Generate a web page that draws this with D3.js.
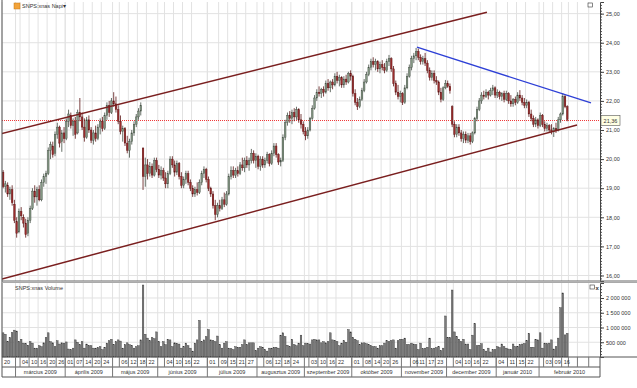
<!DOCTYPE html>
<html>
<head>
<meta charset="utf-8">
<script src="https://cdn.jsdelivr.net/npm/d3@7"></script>
<style>
body { margin: 0; background: #fff; }
text { font-family: "Liberation Sans", Arial, sans-serif; fill: #333; }
</style>
</head>
<body>
<div id="my_chart"></div>
<script>
// daily candles [open, high, low, close], 20 Feb 2009 .. 18 Feb 2010
var ohlc = [
  [19.55,19.62,19.00,19.05],[19.05,19.25,18.85,19.15],[19.10,19.20,18.70,18.80],[18.80,19.05,18.60,18.95],
  [18.95,19.10,18.40,18.50],[18.45,18.60,17.80,17.90],[17.85,18.00,17.30,17.45],[17.50,18.30,17.45,18.20],
  [18.20,18.35,17.90,18.05],[18.00,18.10,17.65,17.80],[17.80,17.95,17.30,17.40],[17.45,18.00,17.35,17.90],
  [17.90,18.40,17.80,18.30],[18.30,19.00,18.25,18.90],[18.90,19.10,18.50,18.70],[18.70,19.05,18.40,18.95],
  [18.95,19.10,18.55,18.60],[18.60,19.30,18.55,19.20],[19.20,19.50,19.05,19.40],[19.40,19.60,19.15,19.50],
  [19.50,20.40,19.45,20.30],[20.30,20.60,20.00,20.50],[20.45,20.60,20.05,20.15],[20.20,20.95,20.10,20.85],
  [20.85,21.25,20.70,21.10],[21.10,21.15,20.40,20.55],[20.60,21.00,20.25,20.90],[20.90,21.10,20.55,20.70],
  [20.70,21.40,20.65,21.30],[21.30,21.70,21.10,21.55],[21.50,21.60,21.05,21.15],[21.15,21.40,20.80,21.30],
  [21.30,21.45,20.70,20.85],[20.90,21.70,20.85,21.60],[21.60,22.10,21.30,21.45],[21.45,21.60,21.00,21.10],
  [21.10,21.40,20.60,20.75],[20.75,21.45,20.70,21.35],[21.35,21.50,20.90,21.00],[21.00,21.10,20.55,20.65],
  [20.65,21.00,20.50,20.90],[20.90,21.15,20.60,20.70],[20.70,21.20,20.65,21.10],[21.10,21.40,20.85,21.30],
  [21.30,21.45,20.95,21.05],[21.05,21.60,21.00,21.50],[21.50,21.95,21.35,21.85],[21.85,22.00,21.45,21.60],
  [21.60,22.10,21.55,22.00],[22.00,22.30,21.80,21.90],[21.90,22.15,21.60,21.70],[21.70,21.85,21.20,21.30],
  [21.30,21.50,20.85,20.95],[20.95,21.15,20.60,21.05],[21.05,21.10,20.45,20.55],[20.55,20.80,20.20,20.30],
  [20.30,20.70,20.05,20.60],[20.60,21.00,20.50,20.90],[20.90,21.30,20.80,21.20],[21.20,21.55,21.10,21.45],
  [21.45,21.75,21.35,21.65],[21.65,21.95,21.50,21.85],[20.38,20.40,18.94,19.40],[19.40,20.05,19.05,19.80],
  [19.80,20.00,19.30,19.50],[19.50,19.90,19.40,19.75],[19.75,19.85,19.35,19.45],[19.45,20.05,19.40,19.95],
  [19.95,20.05,19.55,19.65],[19.65,19.80,19.35,19.45],[19.45,19.75,19.30,19.60],[19.60,19.70,19.25,19.35],
  [19.35,19.55,19.00,19.15],[19.15,19.60,19.00,19.50],[19.50,20.10,19.45,20.00],[20.00,20.10,19.70,19.80],
  [19.80,19.95,19.40,19.55],[19.55,19.95,19.45,19.85],[19.85,19.90,19.30,19.40],[19.40,19.55,19.00,19.10],
  [19.10,19.40,19.00,19.30],[19.30,19.60,19.15,19.50],[19.50,19.60,19.10,19.20],[19.20,19.30,18.90,19.00],
  [19.00,19.10,18.70,18.80],[18.80,19.05,18.70,18.95],[18.95,19.20,18.75,18.85],[18.85,19.30,18.80,19.20],
  [19.20,19.60,19.10,19.50],[19.50,19.75,19.35,19.65],[19.65,19.70,19.20,19.30],[19.30,19.40,18.90,19.00],
  [19.00,19.05,18.70,18.80],[18.80,18.90,18.30,18.40],[18.40,18.60,17.90,18.10],[18.10,18.50,18.00,18.40],
  [18.40,18.60,18.20,18.30],[18.30,18.70,18.25,18.60],[18.60,18.85,18.35,18.45],[18.45,18.90,18.40,18.80],
  [18.80,19.50,18.75,19.40],[19.40,19.75,19.30,19.60],[19.60,19.75,19.35,19.45],[19.45,19.70,19.35,19.60],
  [19.60,19.75,19.40,19.50],[19.50,19.90,19.45,19.80],[19.80,20.05,19.60,19.70],[19.70,20.05,19.55,19.95],
  [19.95,20.10,19.70,19.80],[19.80,20.05,19.60,19.95],[19.95,20.35,19.85,20.20],[20.20,20.30,19.85,19.95],
  [19.95,20.20,19.70,20.10],[20.10,20.15,19.65,19.75],[19.75,20.10,19.60,20.00],[20.00,20.10,19.70,19.80],
  [19.80,20.05,19.70,19.95],[19.95,20.25,19.85,20.15],[20.15,20.20,19.75,19.85],[19.85,20.30,19.80,20.20],
  [20.20,20.55,20.10,20.45],[20.45,20.55,20.05,20.15],[20.15,20.20,19.80,19.90],[19.90,20.05,19.75,19.95],
  [19.95,20.85,19.90,20.75],[20.75,21.35,20.65,21.25],[21.25,21.60,21.15,21.50],[21.50,21.65,21.25,21.40],
  [21.40,21.70,21.20,21.60],[21.60,21.75,21.30,21.45],[21.45,21.80,21.35,21.70],[21.70,21.75,21.25,21.35],
  [21.35,21.55,21.05,21.20],[21.20,21.30,20.85,20.95],[20.95,21.10,20.65,20.80],[20.80,21.10,20.70,21.00],
  [21.00,21.45,20.95,21.40],[21.40,21.85,21.35,21.75],[21.75,22.20,21.70,22.10],[22.10,22.40,22.00,22.30],
  [22.30,22.50,22.15,22.25],[22.25,22.45,22.10,22.40],[22.40,22.50,22.15,22.30],[22.30,22.70,22.25,22.60],
  [22.60,22.75,22.35,22.45],[22.45,22.70,22.30,22.65],[22.65,22.75,22.40,22.55],[22.55,22.95,22.50,22.85],
  [22.85,23.00,22.60,22.70],[22.70,22.90,22.50,22.80],[22.80,22.85,22.45,22.55],[22.55,22.85,22.45,22.75],
  [22.75,22.90,22.55,22.65],[22.65,23.00,22.60,22.95],[22.95,23.05,22.70,22.85],[22.85,22.90,22.15,22.25],
  [22.25,22.40,21.85,21.95],[21.95,22.10,21.69,21.80],[21.80,22.15,21.75,22.05],[22.05,22.45,22.00,22.35],
  [22.35,22.75,22.30,22.65],[22.65,23.00,22.60,22.90],[22.90,23.25,22.85,23.15],[23.15,23.45,23.05,23.35],
  [23.35,23.50,23.15,23.25],[23.25,23.45,23.05,23.35],[23.35,23.40,23.00,23.10],[23.10,23.35,22.95,23.25],
  [23.25,23.40,23.05,23.15],[23.15,23.30,22.95,23.05],[23.05,23.45,23.00,23.35],[23.35,23.58,23.20,23.45],
  [23.45,23.50,23.00,23.10],[23.10,23.20,22.50,22.60],[22.60,22.70,22.20,22.30],[22.30,22.55,22.05,22.15],
  [22.15,22.35,21.95,22.25],[22.25,22.30,21.86,21.95],[21.95,22.55,21.90,22.45],[22.45,22.95,22.40,22.85],
  [22.85,23.25,22.80,23.15],[23.15,23.55,23.05,23.45],[23.45,23.65,23.30,23.55],[23.55,23.82,23.40,23.70],
  [23.70,23.80,23.40,23.50],[23.50,23.60,23.25,23.35],[23.35,23.55,23.25,23.45],[23.45,23.65,23.20,23.30],
  [23.30,23.40,22.95,23.05],[23.05,23.15,22.70,22.80],[22.80,23.05,22.70,22.95],[22.95,23.05,22.60,22.70],
  [22.70,22.85,22.55,22.65],[22.65,22.70,22.20,22.30],[22.30,22.45,21.95,22.05],[22.05,22.50,22.00,22.45],
  [22.45,22.72,22.40,22.60],[22.60,22.70,22.45,22.50],[22.50,22.60,22.25,22.35],[21.80,21.85,21.10,21.20],
  [21.20,21.30,20.75,20.85],[20.85,21.20,20.75,21.10],[21.10,21.20,20.80,20.90],[20.90,21.00,20.60,20.70],
  [20.70,20.95,20.55,20.85],[20.85,20.95,20.55,20.65],[20.65,20.90,20.55,20.80],[20.80,20.90,20.50,20.60],
  [20.60,20.95,20.55,20.90],[20.90,21.45,20.85,21.40],[21.40,21.80,21.30,21.70],[21.70,22.10,21.65,22.00],
  [22.00,22.30,21.90,22.20],[22.20,22.35,22.05,22.15],[22.15,22.40,22.10,22.30],[22.30,22.35,22.05,22.20],
  [22.20,22.45,22.15,22.35],[22.35,22.55,22.20,22.45],[22.45,22.50,22.10,22.20],[22.20,22.40,22.10,22.30],
  [22.30,22.35,22.05,22.15],[22.15,22.30,22.00,22.25],[22.25,22.35,21.95,22.05],[22.05,22.35,22.00,22.25],
  [22.25,22.30,21.90,22.00],[22.00,22.20,21.80,21.90],[21.90,22.10,21.80,22.05],[22.05,22.15,21.85,21.95],
  [21.95,22.30,21.90,22.20],[22.20,22.37,22.00,22.10],[22.10,22.20,21.85,21.95],[21.95,22.10,21.75,21.85],
  [21.85,22.05,21.75,21.95],[21.95,22.00,21.45,21.55],[21.55,21.70,21.30,21.40],[21.40,21.50,21.10,21.20],
  [21.20,21.45,21.10,21.35],[21.35,21.40,21.05,21.15],[21.15,21.60,21.10,21.50],[21.50,21.55,21.10,21.20],
  [21.20,21.30,20.95,21.05],[21.05,21.25,20.95,21.15],[21.15,21.20,20.90,21.00],[21.00,21.20,20.85,20.95],
  [20.95,21.10,20.76,21.05],[21.05,21.25,20.90,21.00],[21.00,21.45,20.95,21.35],[21.35,21.60,21.25,21.55],
  [21.55,22.27,21.50,22.15],[22.15,22.20,21.75,21.80],[21.80,21.85,21.30,21.36]
];

// daily volume, thousands of shares
var volume = [
  820,770,530,660,830,910,880,530,600,470, 450,400,520,470,300,300,380,350,480,660,
  820,520,480,350,550,440,480,470,510,270, 250,300,580,500,420,520,300,440,390,380,
  300,300,320,350,250,330,470,550,600,420, 520,580,540,300,420,480,420,390,300,350,
  380,580,2440,770,640,550,660,620,850,520, 350,520,420,600,580,350,480,460,440,300,
  350,470,380,300,200,470,580,1240,520,580, 690,930,580,560,520,710,420,300,470,520,
  300,280,250,350,330,330,420,580,420,480, 480,480,220,300,350,330,250,200,300,300,
  330,330,300,740,820,690,400,350,600,420, 380,470,740,380,470,450,440,580,600,580,
  580,480,520,480,520,820,580,560,520,380, 470,550,500,930,850,660,600,550,420,480,
  480,450,420,380,350,350,300,380,380,470, 550,520,560,580,300,550,600,600,640,420,
  420,470,440,420,250,470,280,300,330,640, 280,300,320,350,220,300,1390,660,660,2270,
  850,690,600,520,600,440,440,250,740,1130, 380,400,450,250,200,300,170,250,250,350,
  320,440,350,300,270,250,440,350,350,420, 440,460,550,800,330,330,600,580,820,300,
  470,450,470,580,270,350,640,1670,2170,750, 800
];

// day ticks on the date row: [slot index, label]
var dayTicks = [
  [0,"20"],[8,"04"],[12,"10"],[16,"16"],[20,"20"],[24,"26"],[28,"01"],[32,"07"],[36,"14"],[40,"20"],[44,"24"],
  [52,"06"],[56,"12"],[60,"18"],[64,"22"],[72,"04"],[76,"10"],[80,"16"],[84,"22"],[91,"01"],[96,"09"],
  [100,"15"],[104,"21"],[108,"27"],[116,"06"],[120,"12"],[124,"18"],[128,"24"],[136,"03"],[140,"10"],
  [144,"16"],[148,"22"],[155,"01"],[160,"08"],[164,"14"],[168,"20"],[172,"26"],[181,"06"],[184,"11"],
  [188,"17"],[192,"23"],[200,"04"],[204,"10"],[208,"16"],[212,"22"],[219,"04"],[224,"11"],[228,"15"],
  [232,"22"],[240,"03"],[244,"09"],[248,"16"],[251,""],[255,""],[260,""]
];
var monthStarts = [6, 28, 49, 69, 91, 113, 134, 155, 177, 197, 219, 238];
var monthNames = ["március 2009", "április 2009", "május 2009", "június 2009", "július 2009",
  "augusztus 2009", "szeptember 2009", "október 2009", "november 2009", "december 2009",
  "január 2010", "február 2010"];

var priceTicks = [16, 17, 18, 19, 20, 21, 22, 23, 24, 25];
var volumeTicks = [500000, 1000000, 1500000, 2000000];
var lastPrice = 21.36;

// drawn trend lines: [slot index, price]
var channelTop = [[-1.4, 20.86], [214.4, 25.05]];
var channelBottom = [[-0.5, 15.88], [254.3, 21.17]];
var resistance = [[183.4, 23.85], [260.5, 21.93]];

var width = 637, height = 388;
var plotL = 2, plotR = 600, mainT = 2, mainB = 281, volT = 283, volB = 357, dayB = 367, monB = 377;
var slots = 265;

var svg = d3.select("#my_chart")
  .append("svg")
  .attr("width", width)
  .attr("height", height);

var x = d3.scaleBand()
  .domain(d3.range(slots))
  .range([plotL, plotR])
  .paddingInner(0);
var xc = function (i) { return x(i) + x.bandwidth() / 2; };
var xl = d3.scaleLinear()
  .domain([-0.5, slots - 0.5])
  .range([plotL, plotR]);

var y = d3.scaleLinear()
  .domain([15.81, 25.40])
  .range([mainB, mainT]);

var yv = d3.scaleLinear()
  .domain([0, 2508000])
  .range([volB, volT]);

svg.append("defs").append("clipPath").attr("id", "mainclip")
  .append("rect")
  .attr("x", plotL).attr("y", mainT)
  .attr("width", plotR - plotL).attr("height", mainB - mainT);

// grid
var gridX = dayTicks.map(function (d) { return d[0]; }).concat(monthStarts);

svg.append("g")
  .selectAll("line")
  .data(gridX)
  .enter().append("line")
  .attr("x1", function (d) { return x(d); })
  .attr("x2", function (d) { return x(d); })
  .attr("y1", mainT)
  .attr("y2", mainB)
  .attr("stroke", "#e2e2e2");

svg.append("g")
  .selectAll("line")
  .data(gridX)
  .enter().append("line")
  .attr("x1", function (d) { return x(d); })
  .attr("x2", function (d) { return x(d); })
  .attr("y1", volT)
  .attr("y2", volB)
  .attr("stroke", "#e2e2e2");

svg.append("g")
  .selectAll("line")
  .data(priceTicks)
  .enter().append("line")
  .attr("x1", plotL)
  .attr("x2", plotR)
  .attr("y1", function (d) { return y(d); })
  .attr("y2", function (d) { return y(d); })
  .attr("stroke", "#e2e2e2");

svg.append("g")
  .selectAll("line")
  .data(volumeTicks)
  .enter().append("line")
  .attr("x1", plotL)
  .attr("x2", plotR)
  .attr("y1", function (d) { return yv(d); })
  .attr("y2", function (d) { return yv(d); })
  .attr("stroke", "#e2e2e2");

// last price line
var yLast = Math.round(y(lastPrice)) + 0.5;
svg.append("line")
  .attr("x1", plotL)
  .attr("x2", plotR)
  .attr("y1", yLast)
  .attr("y2", yLast)
  .attr("stroke", "#f03a3a")
  .attr("stroke-width", 1)
  .attr("stroke-dasharray", "1,1");

// candles
var bw = x.bandwidth() * 0.72;
var candles = svg.append("g")
  .selectAll("g")
  .data(ohlc)
  .enter().append("g");

candles.append("line")
  .attr("x1", function (d, i) { return xc(i); })
  .attr("x2", function (d, i) { return xc(i); })
  .attr("y1", function (d) { return y(d[1]); })
  .attr("y2", function (d) { return y(d[2]); })
  .attr("stroke", function (d) { return d[3] >= d[0] ? "#414b41" : "#5a1414"; })
  .attr("stroke-width", 0.8);

candles.append("rect")
  .attr("x", function (d, i) { return xc(i) - bw / 2; })
  .attr("y", function (d) { return y(Math.max(d[0], d[3])); })
  .attr("width", bw)
  .attr("height", function (d) { return Math.max(0.8, Math.abs(y(d[0]) - y(d[3]))); })
  .attr("fill", function (d) { return d[3] >= d[0] ? "#829682" : "#9a2c2c"; })
  .attr("stroke", function (d) { return d[3] >= d[0] ? "#414b41" : "#5a1414"; })
  .attr("stroke-width", 0.4);

// trend lines
var trend = d3.line()
  .x(function (d) { return xl(d[0]); })
  .y(function (d) { return y(d[1]); });

var lines = svg.append("g").attr("clip-path", "url(#mainclip)");
lines.append("path").attr("d", trend(channelTop))
  .attr("fill", "none").attr("stroke", "#7a1f1f").attr("stroke-width", 1.5);
lines.append("path").attr("d", trend(channelBottom))
  .attr("fill", "none").attr("stroke", "#7a1f1f").attr("stroke-width", 1.5);
lines.append("path").attr("d", trend(resistance))
  .attr("fill", "none").attr("stroke", "#2d3fd6").attr("stroke-width", 1.3);

// volume bars
svg.append("g")
  .selectAll("rect")
  .data(volume)
  .enter().append("rect")
  .attr("x", function (d, i) { return xc(i) - bw / 2; })
  .attr("y", function (d) { return yv(d * 1000); })
  .attr("width", bw)
  .attr("height", function (d) { return volB - yv(d * 1000); })
  .attr("fill", "#7c7c7c")
  .attr("stroke", "#333")
  .attr("stroke-width", 0.4);

// price axis (right)
var fmtPrice = function (d) { return d3.format(".2f")(d).replace(".", ","); };

svg.append("g")
  .attr("transform", "translate(" + plotR + ",0)")
  .call(d3.axisRight(y).tickValues(d3.range(158, 254).map(function (d) { return d / 10; }))
    .tickSize(2).tickFormat(""))
  .call(function (g) { g.select(".domain").remove(); })
  .selectAll("line").attr("stroke", "#555");

var yAxis = svg.append("g")
  .attr("transform", "translate(" + plotR + ",0)")
  .call(d3.axisRight(y).tickValues(priceTicks).tickSize(4).tickPadding(2).tickFormat(fmtPrice));
yAxis.select(".domain").attr("stroke", "#444");
yAxis.selectAll("line").attr("stroke", "#444");
yAxis.selectAll("text").style("font-size", "5.5px").attr("fill", "#333");

// last price box
svg.append("rect")
  .attr("x", plotR + 1)
  .attr("y", yLast - 5)
  .attr("width", 19)
  .attr("height", 10)
  .attr("fill", "#ffffe4")
  .attr("stroke", "#555")
  .attr("stroke-width", 0.6);
svg.append("text")
  .attr("x", plotR + 10.5)
  .attr("y", yLast + 2)
  .attr("text-anchor", "middle")
  .style("font-size", "5.5px")
  .text(fmtPrice(lastPrice));

// volume axis (right)
svg.append("g")
  .attr("transform", "translate(" + plotR + ",0)")
  .call(d3.axisRight(yv).tickValues(d3.range(1, 25).map(function (d) { return d * 100000; }))
    .tickSize(2).tickFormat(""))
  .call(function (g) { g.select(".domain").remove(); })
  .selectAll("line").attr("stroke", "#555");

var vAxis = svg.append("g")
  .attr("transform", "translate(" + plotR + ",0)")
  .call(d3.axisRight(yv).tickValues(volumeTicks).tickSize(4).tickPadding(2)
    .tickFormat(function (d) { return d3.format(",")(d).replace(/,/g, " "); }));
vAxis.select(".domain").attr("stroke", "#444");
vAxis.selectAll("line").attr("stroke", "#444");
vAxis.selectAll("text").style("font-size", "5.5px").attr("fill", "#333");

// frames
svg.append("line").attr("x1", plotL).attr("x2", plotL).attr("y1", 0).attr("y2", monB).attr("stroke", "#555");
svg.append("line").attr("x1", plotL).attr("x2", width).attr("y1", mainB).attr("y2", mainB).attr("stroke", "#666");
svg.append("line").attr("x1", plotL).attr("x2", width).attr("y1", volT - 0.5).attr("y2", volT - 0.5).attr("stroke", "#aaa");
svg.append("line").attr("x1", plotL).attr("x2", width).attr("y1", volB).attr("y2", volB).attr("stroke", "#555");
svg.append("line").attr("x1", plotL).attr("x2", plotR).attr("y1", dayB).attr("y2", dayB).attr("stroke", "#555");
svg.append("line").attr("x1", plotL).attr("x2", plotR).attr("y1", monB).attr("y2", monB).attr("stroke", "#555");
svg.append("line").attr("x1", plotR).attr("x2", plotR).attr("y1", volB).attr("y2", monB).attr("stroke", "#555");

// date rows
var days = svg.append("g");
days.selectAll("line")
  .data(dayTicks.filter(function (d) { return d[0] > 0; }))
  .enter().append("line")
  .attr("x1", function (d) { return x(d[0]); })
  .attr("x2", function (d) { return x(d[0]); })
  .attr("y1", volB)
  .attr("y2", dayB)
  .attr("stroke", "#777");
days.selectAll("text")
  .data(dayTicks)
  .enter().append("text")
  .attr("x", function (d) { return x(d[0]) + 2; })
  .attr("y", dayB - 3)
  .style("font-size", "5.5px")
  .text(function (d) { return d[1]; });

var months = svg.append("g");
months.selectAll("line")
  .data(monthStarts)
  .enter().append("line")
  .attr("x1", function (d) { return x(d); })
  .attr("x2", function (d) { return x(d); })
  .attr("y1", volB)
  .attr("y2", monB)
  .attr("stroke", "#777");
months.selectAll("text")
  .data(monthNames)
  .enter().append("text")
  .attr("x", function (d, i) {
    var a = x(monthStarts[i]);
    var b = i < monthStarts.length - 1 ? x(monthStarts[i + 1]) : plotR;
    return (a + b) / 2;
  })
  .attr("y", monB - 3)
  .attr("text-anchor", "middle")
  .style("font-size", "5.5px")
  .text(function (d) { return d; });

// titles and small icons
svg.append("rect").attr("x", 14).attr("y", 3).attr("width", 6).attr("height", 6)
  .attr("fill", "#f2a33a").attr("stroke", "#c77a14").attr("stroke-width", 0.5);
svg.append("text").attr("x", 22).attr("y", 8).style("font-size", "5.5px").text("SNPS:xnas Napi\u25BE");
svg.append("text").attr("x", 15).attr("y", 290).style("font-size", "5.5px").text("SNPS:xnas Volume");

svg.append("rect").attr("x", 588).attr("y", 3).attr("width", 4.5).attr("height", 4)
  .attr("fill", "#fff").attr("stroke", "#333").attr("stroke-width", 0.6);
svg.append("rect").attr("x", 590).attr("y", 285).attr("width", 4.5).attr("height", 4)
  .attr("fill", "#fff").attr("stroke", "#333").attr("stroke-width", 0.6);
svg.append("text").attr("x", 595.5).attr("y", 289.5).style("font-size", "6px").style("font-weight", "bold").text("x");
</script>
</body>
</html>
